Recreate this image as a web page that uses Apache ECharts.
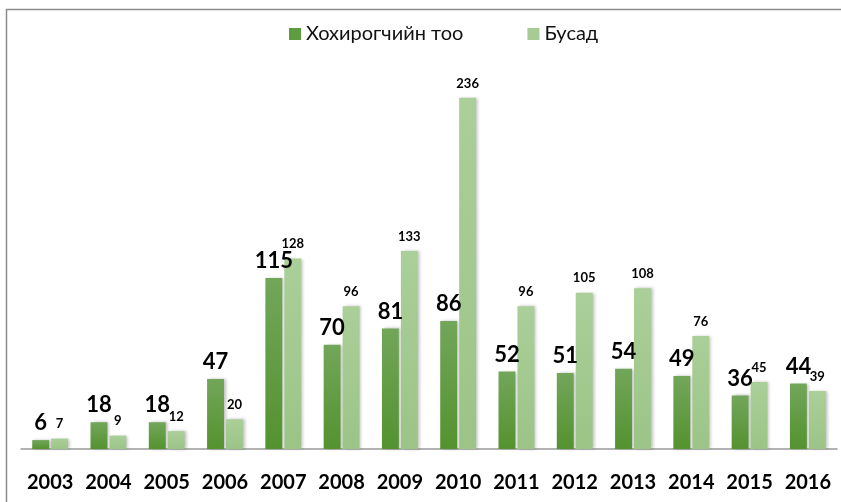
<!DOCTYPE html>
<html>
<head>
<meta charset="utf-8">
<script src="https://cdn.jsdelivr.net/npm/echarts@6/dist/echarts.min.js"></script>
<style>
  html, body { margin: 0; padding: 0; background: #fff; }
  #chart { width: 841px; height: 502px; }
</style>
</head>
<body>
<div id="chart"></div>
<script>
const years = ['2003', '2004', '2005', '2006', '2007', '2008', '2009', '2010', '2011', '2012', '2013', '2014', '2015', '2016'];
const victims = [6, 18, 18, 47, 115, 70, 81, 86, 52, 51, 54, 49, 36, 44];
const others = [7, 9, 12, 20, 128, 96, 133, 236, 96, 105, 108, 76, 45, 39];
const seriesNames = ['Хохирогчийн тоо', 'Бусад'];

const FONT = "Lato, sans-serif";

const chart = echarts.init(document.getElementById('chart'));

function grad(top, bottom) {
    return new echarts.graphic.LinearGradient(0, 0, 0, 1, [
        {offset: 0, color: top},
        {offset: 1, color: bottom}
    ]);
}

const option = {
    animation: false,
    backgroundColor: '#fff',
    textStyle: {fontFamily: FONT},
    graphic: [{
        type: 'rect',
        shape: {x: 6.5, y: 9.5, width: 900, height: 600},
        style: {fill: 'none', stroke: '#8c8c8c', lineWidth: 1.5},
        silent: true
    }],
    legend: {
        top: 19,
        left: 284,
        itemWidth: 12,
        itemHeight: 12,
        itemGap: 64,
        textStyle: {fontSize: 20, color: '#111', fontFamily: FONT},
        data: [
            {name: seriesNames[0], icon: 'rect', itemStyle: {color: '#5f9c3f'}},
            {name: seriesNames[1], icon: 'rect', itemStyle: {color: '#a6cb94'}}
        ]
    },
    grid: {left: 21, right: 4, top: 77, bottom: 53},
    xAxis: {
        type: 'category',
        data: years,
        axisLine: {lineStyle: {color: '#999', width: 1.5}},
        axisTick: {show: false},
        axisLabel: {
            interval: 0,
            color: '#000',
            fontSize: 20,
            fontWeight: 'bold',
            margin: 24,
            fontFamily: FONT
        }
    },
    yAxis: {
        type: 'value',
        min: 0,
        max: 250,
        show: false,
        splitLine: {show: false}
    },
    series: [{
        name: seriesNames[0],
        type: 'bar',
        data: victims,
        barWidth: '29%',
        barGap: '12%',
        itemStyle: {
            color: grad('#72a65a', '#54922f'),
            shadowColor: 'rgba(0,0,0,0.25)',
            shadowBlur: 3,
            shadowOffsetX: 2
        },
        label: {
            show: true,
            position: 'top',
            distance: 6,
            color: '#000',
            fontSize: 22,
            fontWeight: 'bold',
            fontFamily: FONT
        }
    }, {
        name: seriesNames[1],
        type: 'bar',
        data: others,
        barWidth: '29%',
        itemStyle: {
            color: grad('#aacf99', '#9cc487'),
            shadowColor: 'rgba(0,0,0,0.25)',
            shadowBlur: 3,
            shadowOffsetX: 2
        },
        label: {
            show: true,
            position: 'top',
            distance: 8,
            color: '#000',
            fontSize: 13,
            fontWeight: 'bold',
            fontFamily: FONT
        }
    }]
};

chart.setOption(option);
</script>
</body>
</html>
